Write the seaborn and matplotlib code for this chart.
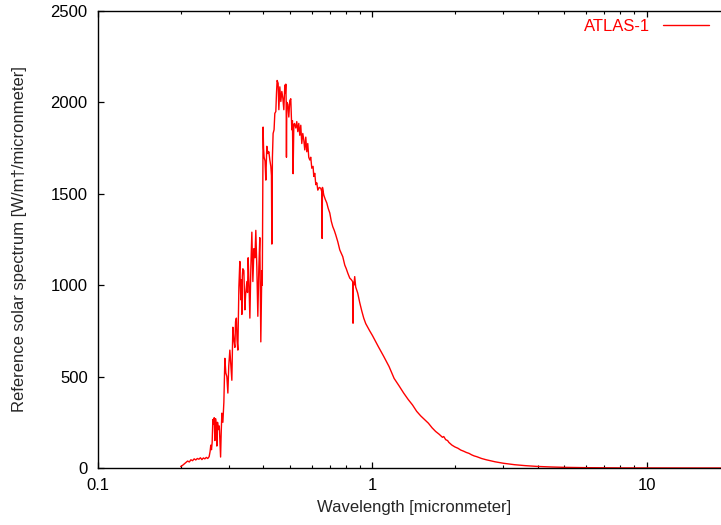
import matplotlib
matplotlib.use("Agg")
import matplotlib.pyplot as plt
import numpy as np
import pandas as pd
import seaborn as sns
from matplotlib.ticker import FixedLocator, FixedFormatter, NullFormatter

# ---- data ----
wavelength = [
    0.2000, 0.2030, 0.2060, 0.2090, 0.2120, 0.2150, 0.2180, 0.2210, 0.2240, 0.2270,
    0.2300, 0.2330, 0.2360, 0.2390, 0.2420, 0.2450, 0.2480, 0.2510, 0.2540, 0.2560,
    0.2575, 0.2590, 0.2605, 0.2620, 0.2635, 0.2650, 0.2665, 0.2680, 0.2695, 0.2710,
    0.2725, 0.2745, 0.2765, 0.2780, 0.2796, 0.2810, 0.2826, 0.2850, 0.2874, 0.2898,
    0.2922, 0.2947, 0.2972, 0.2995, 0.3022, 0.3048, 0.3073, 0.3099, 0.3125, 0.3152,
    0.3170, 0.3192, 0.3210, 0.3232, 0.3260, 0.3286, 0.3300, 0.3314, 0.3328, 0.3342,
    0.3356, 0.3370, 0.3399, 0.3428, 0.3450, 0.3486, 0.3505, 0.3524, 0.3550, 0.3575,
    0.3605, 0.3635, 0.3666, 0.3700, 0.3730, 0.3758, 0.3790, 0.3822, 0.3855, 0.3886,
    0.3919, 0.3935, 0.3952, 0.3968, 0.3985, 0.3995, 0.4010, 0.4029, 0.4060, 0.4087,
    0.4121, 0.4160, 0.4192, 0.4227, 0.4263, 0.4285, 0.4299, 0.4320, 0.4345, 0.4380,
    0.4408, 0.4445, 0.4470, 0.4494, 0.4532, 0.4559, 0.4597, 0.4636, 0.4675, 0.4714,
    0.4754, 0.4794, 0.4814, 0.4834, 0.4848, 0.4860, 0.4875, 0.4916, 0.4957, 0.4998,
    0.5040, 0.5083, 0.5110, 0.5139, 0.5170, 0.5200, 0.5256, 0.5300, 0.5345, 0.5390,
    0.5435, 0.5481, 0.5527, 0.5574, 0.5621, 0.5668, 0.5716, 0.5764, 0.5812, 0.5860,
    0.5911, 0.5960, 0.6012, 0.6077, 0.6112, 0.6165, 0.6217, 0.6270, 0.6323, 0.6400,
    0.6483, 0.6540, 0.6555, 0.6576, 0.6649, 0.6730, 0.6818, 0.6900, 0.6992, 0.7080,
    0.7170, 0.7260, 0.7352, 0.7477, 0.7604, 0.7700, 0.7797, 0.7929, 0.8030, 0.8128,
    0.8267, 0.8380, 0.8477, 0.8499, 0.8520, 0.8560, 0.8619, 0.8692, 0.8839, 0.8989,
    0.9142, 0.9297, 0.9454, 0.9614, 0.9777, 1.000, 1.050, 1.100, 1.150, 1.200,
    1.250, 1.300, 1.350, 1.400, 1.450, 1.500, 1.550, 1.600, 1.650, 1.700,
    1.750, 1.800, 1.820, 1.850, 1.880, 1.900, 1.950, 2.000, 2.050, 2.100,
    2.150, 2.200, 2.250, 2.300, 2.350, 2.400, 2.450, 2.500, 2.600, 2.800,
    3.000, 3.300, 3.600, 4.000, 4.500, 5.000, 6.000, 7.000, 8.000, 10.00,
    12.00, 15.00, 20.00,
]
irradiance = [
    8, 14, 22, 30, 38, 33, 45, 40, 50, 44,
    52, 48, 56, 46, 55, 50, 58, 52, 62, 90,
    125, 100, 140, 265, 240, 275, 150, 270, 240, 120,
    250, 210, 230, 140, 60, 190, 300, 250, 360, 600,
    520, 500, 410, 560, 645, 560, 480, 770, 700, 660,
    800, 820, 700, 645, 990, 1130, 1000, 920, 1030, 840,
    1050, 1090, 1080, 865, 950, 1020, 960, 1150, 1000, 820,
    1100, 1290, 1020, 1200, 1150, 1300, 1100, 830, 1100, 1260,
    690, 900, 1080, 1000, 1500, 1865, 1750, 1700, 1680, 1575,
    1760, 1720, 1730, 1685, 1650, 1600, 1225, 1700, 1830, 1850,
    1940, 1950, 2050, 2120, 2105, 1960, 2085, 2005, 2060, 2025,
    1960, 2095, 2050, 2100, 2010, 1700, 2000, 1990, 1920, 2010,
    2020, 1850, 1900, 1610, 1880, 1885, 1860, 1895, 1840, 1885,
    1820, 1875, 1775, 1830, 1795, 1740, 1810, 1730, 1775, 1700,
    1685, 1700, 1640, 1650, 1595, 1612, 1550, 1560, 1520, 1535,
    1530, 1510, 1256, 1535, 1493, 1470, 1450, 1420, 1395, 1350,
    1320, 1300, 1275, 1238, 1193, 1175, 1156, 1110, 1090, 1067,
    1039, 1030, 1019, 792, 1010, 1000, 1047, 990, 957, 905,
    860, 820, 790, 770, 750, 725, 665, 610, 555, 490,
    450, 410, 375, 345, 310, 285, 265, 245, 220, 200,
    185, 168, 172, 155, 150, 140, 125, 115, 108, 98,
    92, 85, 80, 72, 66, 62, 57, 52, 45, 34,
    26, 18, 13, 8.5, 5.5, 3.6, 1.8, 1.0, 0.6, 0.25,
    0.12, 0.05, 0.02,
]
series_label = "ATLAS-1"
x_ticks = [0.1, 1, 10]
x_tick_labels = ["0.1", "1", "10"]
x_minor = [0.2, 0.3, 0.4, 0.5, 0.6, 0.7, 0.8, 0.9,
           2, 3, 4, 5, 6, 7, 8, 9, 20]
y_ticks = [0, 500, 1000, 1500, 2000, 2500]

df = pd.DataFrame({"wavelength": wavelength, "irradiance": irradiance})

sns.set_theme(style="ticks")
plt.rcParams["font.family"] = ["Liberation Sans", "DejaVu Sans"]
plt.rcParams["font.size"] = 12

W, H = 721, 525
fig = plt.figure(figsize=(W / 100, H / 100), dpi=100)
fig.patch.set_facecolor("white")
left_px, right_px, top_px, bottom_px = 98.1, 729.3, 11, 468
ax = fig.add_axes([left_px / W, (H - bottom_px) / H,
                   (right_px - left_px) / W, (bottom_px - top_px) / H])

sns.lineplot(data=df, x="wavelength", y="irradiance", ax=ax, color="#ff0000",
             linewidth=1.0, sort=False, estimator=None, label=series_label)

ax.set_xscale("log")
ax.set_xlim(0.1, 20)
ax.set_ylim(0, 2500)

ax.xaxis.set_major_locator(FixedLocator(x_ticks))
ax.xaxis.set_major_formatter(FixedFormatter(x_tick_labels))
ax.xaxis.set_minor_locator(FixedLocator(x_minor))
ax.xaxis.set_minor_formatter(NullFormatter())
ax.yaxis.set_major_locator(FixedLocator(y_ticks))

for s in ax.spines.values():
    s.set_linewidth(1.0)
    s.set_color("black")

ax.tick_params(axis="both", which="major", direction="in", length=4.5, width=0.9,
               colors="black", labelsize=12, top=True, right=True)
ax.tick_params(axis="x", which="minor", direction="in", length=2.3, width=0.8,
               colors="black", top=True)
ax.tick_params(axis="y", which="major", pad=7.5)
ax.tick_params(axis="x", which="major", pad=7)

ax.set_xlabel("Wavelength [micronmeter]", fontsize=12, labelpad=5)
ax.set_ylabel("Reference solar spectrum [W/m†/micronmeter]", fontsize=12, labelpad=17)

leg = ax.legend(loc="upper right", bbox_to_anchor=(0.9683, 0.983), frameon=False,
                markerfirst=False, labelcolor="#ff0000", fontsize=12,
                handlelength=2.75, handletextpad=0.78, borderpad=0, borderaxespad=0)

fig.savefig("out.png", dpi=100, facecolor="white")
